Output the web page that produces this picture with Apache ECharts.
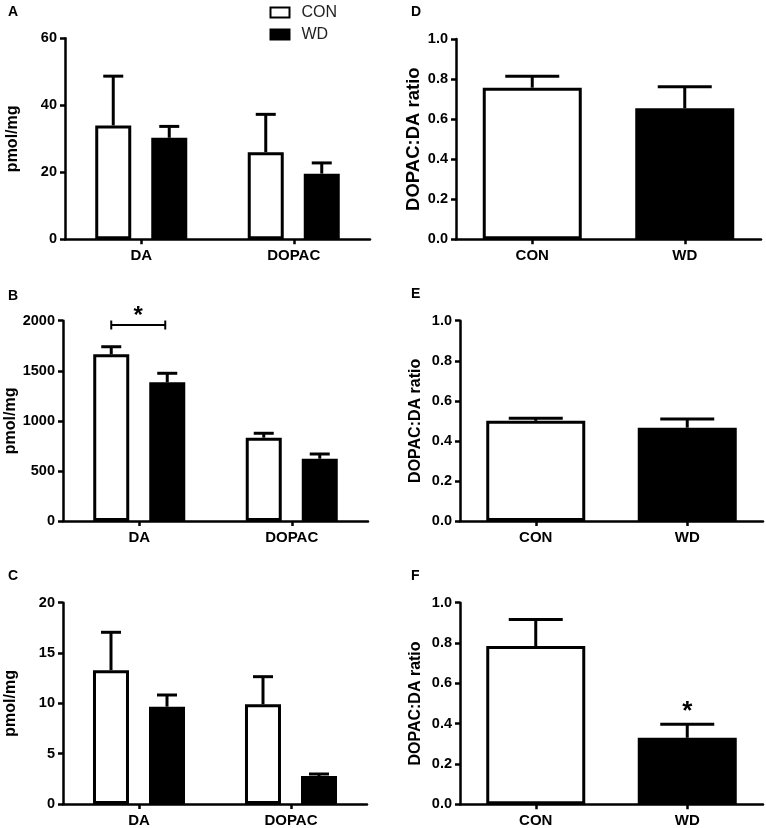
<!DOCTYPE html>
<html>
<head>
<meta charset="utf-8">
<script src="https://cdn.jsdelivr.net/npm/echarts@6.0.0/dist/echarts.min.js"></script>
<style>
html,body{margin:0;padding:0;background:#fff;}
#chart{width:766px;height:828px;}
</style>
</head>
<body>
<div id="chart"></div>
<script>
// ---------- data ----------
const groupCats = ['DA', 'DOPAC'];
const dietCats = ['CON', 'WD'];

// Panel A (pmol/mg)
const aCon = [34.0, 26.0];
const aConSem = [14.7, 11.3];
const aWd = [30.3, 19.6];
const aWdSem = [3.4, 3.2];
const aTicks = [0, 20, 40, 60];

// Panel B (pmol/mg)
const bCon = [1664, 832];
const bConSem = [76, 44];
const bWd = [1385, 622];
const bWdSem = [90, 47];
const bTicks = [0, 500, 1000, 1500, 2000];
const bSig = [[0, 1957]]; // bracket over DA pair

// Panel C (pmol/mg)
const cCon = [13.3, 9.9];
const cConSem = [3.76, 2.75];
const cWd = [9.67, 2.78];
const cWdSem = [1.16, 0.2];
const cTicks = [0, 5, 10, 15, 20];

// Panels D-F (DOPAC:DA ratio), order CON, WD
const dRatio = [0.757, 0.654];
const dSem = [0.057, 0.108];
const eRatio = [0.50, 0.466];
const eSem = [0.013, 0.043];
const fRatio = [0.785, 0.33];
const fSem = [0.132, 0.067];
const fSig = [[1, 0.487]]; // star above WD
const ratioTicks = [0, 0.2, 0.4, 0.6, 0.8, 1.0];

const panelLetters = ['A', 'B', 'C', 'D', 'E', 'F'];

// ---------- styles ----------
const FONT = 'Liberation Sans, Arial, Helvetica, sans-serif';
const LW = 2.5;
const grids = [
  {left: 65, top: 38.3, width: 305, height: 201},
  {left: 63, top: 320.7, width: 305, height: 200.3},
  {left: 63, top: 602.7, width: 304, height: 201.3},
  {left: 456, top: 39, width: 305, height: 200.3},
  {left: 460, top: 320.7, width: 303, height: 200.3},
  {left: 460, top: 602.7, width: 303, height: 201.6}
];
const letterPos = [[8, 5], [8, 289], [8, 569], [411, 5], [411, 287], [411, 569]];

function xAxisFor(gi, cats) {
  return {
    type: 'category', gridIndex: gi, data: cats, boundaryGap: true,
    axisLine: {show: true, lineStyle: {color: '#000', width: LW}},
    axisTick: {show: true, alignWithLabel: true, length: 5, lineStyle: {color: '#000', width: LW}},
    axisLabel: {color: '#000', fontSize: 15, fontWeight: 'bold', fontFamily: FONT, margin: 9},
    splitLine: {show: false}
  };
}
function yAxisFor(gi, ticks, name, nameSize, nameGap, fmt) {
  return {
    type: 'value', gridIndex: gi, min: ticks[0], max: ticks[ticks.length - 1],
    interval: ticks[1] - ticks[0],
    name: name, nameLocation: 'middle', nameGap: nameGap, nameRotate: 90,
    nameTextStyle: {color: '#000', fontSize: nameSize, fontWeight: 'bold', fontFamily: FONT},
    axisLine: {show: true, lineStyle: {color: '#000', width: LW}},
    axisTick: {show: true, length: 5, lineStyle: {color: '#000', width: LW}},
    axisLabel: {color: '#000', fontSize: 14.5, fontWeight: 'bold', fontFamily: FONT, margin: 8,
      formatter: fmt || (v => String(v))},
    splitLine: {show: false}
  };
}

const conStyle = {color: '#fff', borderColor: '#000', borderWidth: 3};
const wdStyle = {color: '#000', borderColor: '#000', borderWidth: 3};

function errRender(offset, capHalf) {
  return function (params, api) {
    const base = api.coord([api.value(0), api.value(1)]);
    const top = api.coord([api.value(0), api.value(1) + api.value(2)]);
    const cx = base[0] + offset;
    return {
      type: 'group',
      children: [
        {type: 'line', shape: {x1: cx, y1: base[1], x2: cx, y2: top[1]}, style: {stroke: '#000', lineWidth: 3}},
        {type: 'line', shape: {x1: cx - capHalf, y1: top[1], x2: cx + capHalf, y2: top[1]}, style: {stroke: '#000', lineWidth: 3}}
      ]
    };
  };
}
function errData(vals, sems) {
  return vals.map((v, i) => [i, v, sems[i]]);
}

const xAxes = [], yAxes = [], series = [];
const groupedPanels = [
  {con: aCon, conSem: aConSem, wd: aWd, wdSem: aWdSem, ticks: aTicks},
  {con: bCon, conSem: bConSem, wd: bWd, wdSem: bWdSem, ticks: bTicks},
  {con: cCon, conSem: cConSem, wd: cWd, wdSem: cWdSem, ticks: cTicks}
];
groupedPanels.forEach((p, gi) => {
  xAxes.push(xAxisFor(gi, groupCats));
  yAxes.push(yAxisFor(gi, p.ticks, 'pmol/mg', 16, 44));
  series.push({
    type: 'bar', name: 'CON', xAxisIndex: gi, yAxisIndex: gi, data: p.con,
    barWidth: 36, barGap: '55.6%', itemStyle: conStyle, z: 2, silent: true
  });
  series.push({
    type: 'bar', name: 'WD', xAxisIndex: gi, yAxisIndex: gi, data: p.wd,
    barWidth: 36, barGap: '55.6%', itemStyle: wdStyle, z: 2, silent: true
  });
  series.push({
    type: 'custom', name: 'CON sem', xAxisIndex: gi, yAxisIndex: gi,
    data: errData(p.con, p.conSem), encode: {x: 0, y: 1}, renderItem: errRender(-28, 10), z: 3, silent: true
  });
  series.push({
    type: 'custom', name: 'WD sem', xAxisIndex: gi, yAxisIndex: gi,
    data: errData(p.wd, p.wdSem), encode: {x: 0, y: 1}, renderItem: errRender(28, 10), z: 3, silent: true
  });
});

// significance bracket in B
series.push({
  type: 'custom', name: 'sigB', xAxisIndex: 1, yAxisIndex: 1, data: bSig, encode: {x: 0, y: 1}, z: 4, silent: true,
  renderItem: function (params, api) {
    const p = api.coord([api.value(0), api.value(1)]);
    const x1 = p[0] - 28, x2 = p[0] + 26, y = p[1];
    return {
      type: 'group',
      children: [
        {type: 'line', shape: {x1: x1, y1: y, x2: x2, y2: y}, style: {stroke: '#000', lineWidth: 2}},
        {type: 'line', shape: {x1: x1, y1: y - 4.5, x2: x1, y2: y + 4.5}, style: {stroke: '#000', lineWidth: 2}},
        {type: 'line', shape: {x1: x2, y1: y - 4.5, x2: x2, y2: y + 4.5}, style: {stroke: '#000', lineWidth: 2}},
        {type: 'text', x: p[0] - 1, y: y + 3, style: {text: '*', fontSize: 24, fontWeight: 'bold', fontFamily: FONT, fill: '#000', align: 'center', verticalAlign: 'bottom'}}
      ]
    };
  }
});

const ratioPanels = [
  {vals: dRatio, sems: dSem, nameSize: 18.5, nameGap: 33},
  {vals: eRatio, sems: eSem, nameSize: 16, nameGap: 36},
  {vals: fRatio, sems: fSem, nameSize: 16, nameGap: 36}
];
ratioPanels.forEach((p, k) => {
  const gi = k + 3;
  xAxes.push(xAxisFor(gi, dietCats));
  yAxes.push(yAxisFor(gi, ratioTicks, 'DOPAC:DA ratio', p.nameSize, p.nameGap, v => v.toFixed(1)));
  series.push({
    type: 'bar', name: 'ratio', xAxisIndex: gi, yAxisIndex: gi,
    data: p.vals.map((v, i) => ({value: v, itemStyle: i === 0 ? conStyle : wdStyle})),
    barWidth: 99, z: 2, silent: true
  });
  series.push({
    type: 'custom', name: 'ratio sem', xAxisIndex: gi, yAxisIndex: gi,
    data: errData(p.vals, p.sems), encode: {x: 0, y: 1}, renderItem: errRender(0, 27), z: 3, silent: true
  });
});

// star in F
series.push({
  type: 'custom', name: 'sigF', xAxisIndex: 5, yAxisIndex: 5, data: fSig, encode: {x: 0, y: 1}, z: 4, silent: true,
  renderItem: function (params, api) {
    const p = api.coord([api.value(0), api.value(1)]);
    return {type: 'text', x: p[0], y: p[1] + 6, style: {text: '*', fontSize: 26, fontWeight: 'bold', fontFamily: FONT, fill: '#000', align: 'center', verticalAlign: 'middle'}};
  }
});

const option = {
  backgroundColor: '#fff',
  animation: false,
  textStyle: {fontFamily: FONT},
  title: panelLetters.map((t, i) => ({
    text: t, left: letterPos[i][0], top: letterPos[i][1], padding: 0,
    textStyle: {fontSize: 14, fontWeight: 'bold', color: '#000', fontFamily: FONT}
  })),
  legend: {
    data: ['CON', 'WD'], orient: 'vertical', left: 269.5, top: 4.5, padding: 0,
    itemWidth: 19, itemHeight: 10, itemGap: 6, icon: 'rect', selectedMode: false,
    textStyle: {fontSize: 16, fontWeight: 'normal', color: '#222', fontFamily: FONT, padding: [0, 0, 0, 7]}
  },
  grid: grids.map(g => Object.assign({containLabel: false, outerBoundsMode: 'none'}, g)),
  xAxis: xAxes,
  yAxis: yAxes,
  series: series
};

const chart = echarts.init(document.getElementById('chart'), null, {renderer: 'canvas'});
chart.setOption(option);
</script>
</body>
</html>
